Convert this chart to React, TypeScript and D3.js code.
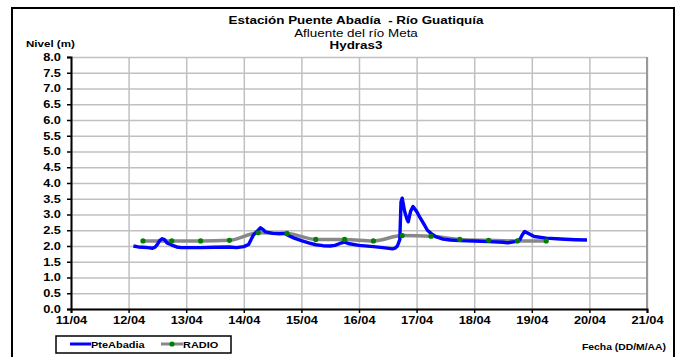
import { useEffect, useRef } from "react"
import * as d3 from "d3"

// Fechas de los ticks del eje X
const xTickLabels = ["11/04", "12/04", "13/04", "14/04", "15/04", "16/04", "17/04", "18/04", "19/04", "20/04", "21/04"]
const yTicks = [0, 0.5, 1, 1.5, 2, 2.5, 3, 3.5, 4, 4.5, 5, 5.5, 6, 6.5, 7, 7.5, 8]

// Serie PteAbadia (sensor)
const pteTimes = [
  "12/04 02:00", "12/04 04:00", "12/04 06:00", "12/04 08:00", "12/04 10:00", "12/04 11:00",
  "12/04 12:00", "12/04 13:00", "12/04 14:00", "12/04 15:00", "12/04 16:00", "12/04 18:00",
  "12/04 20:00", "12/04 22:00", "13/04 00:00", "13/04 06:00", "13/04 12:00", "13/04 18:00",
  "13/04 21:00", "14/04 00:00", "14/04 02:00", "14/04 03:00", "14/04 04:00", "14/04 06:00",
  "14/04 07:00", "14/04 08:00", "14/04 09:00", "14/04 12:00", "14/04 15:00", "14/04 17:00",
  "14/04 19:00", "14/04 21:00", "15/04 00:00", "15/04 03:00", "15/04 06:00", "15/04 09:00",
  "15/04 12:00", "15/04 14:00", "15/04 16:00", "15/04 18:00", "15/04 20:00", "16/04 00:00",
  "16/04 06:00", "16/04 10:00", "16/04 14:00", "16/04 15:00", "16/04 16:00", "16/04 17:00",
  "16/04 17:30", "16/04 18:00", "16/04 19:00", "16/04 20:00", "16/04 20:30", "16/04 21:30",
  "16/04 22:30", "17/04 00:00", "17/04 01:30", "17/04 03:00", "17/04 04:30", "17/04 06:00",
  "17/04 08:00", "17/04 11:00", "17/04 14:00", "17/04 18:00", "18/04 00:00", "18/04 06:00",
  "18/04 12:00", "18/04 14:00", "18/04 17:00", "18/04 19:00", "18/04 20:00", "18/04 21:00",
  "18/04 23:00", "19/04 01:00", "19/04 06:00", "19/04 12:00", "19/04 18:00", "19/04 23:00",
]
const pteValues = [
  2.0, 1.97, 1.96, 1.95, 1.93, 1.96,
  2.05, 2.18, 2.23, 2.2, 2.1, 2.03,
  1.97, 1.95, 1.95, 1.95, 1.96, 1.97,
  1.95, 1.98, 2.05, 2.2, 2.35, 2.5,
  2.58, 2.52, 2.45, 2.4, 2.39, 2.4,
  2.32, 2.25, 2.17, 2.1, 2.04, 2.01,
  2.0, 2.02, 2.08, 2.12, 2.07, 2.02,
  1.98, 1.95, 1.91, 1.93, 2.0, 2.2,
  3.4, 3.52, 3.1, 2.85, 2.77, 3.1,
  3.25, 3.1, 2.89, 2.7, 2.5, 2.4,
  2.3, 2.22, 2.19, 2.17, 2.16, 2.14,
  2.12, 2.1, 2.14, 2.2, 2.35, 2.46,
  2.38, 2.3, 2.25, 2.22, 2.2, 2.19,
]

// Serie RADIO (lecturas 6:00 y 18:00)
const radioTimes = [
  "12/04 06:00", "12/04 18:00", "13/04 06:00", "13/04 18:00", "14/04 06:00", "14/04 18:00",
  "15/04 06:00", "15/04 18:00", "16/04 06:00", "16/04 18:00", "17/04 06:00", "17/04 18:00",
  "18/04 06:00", "18/04 18:00", "19/04 06:00",
]
const radioValues = [2.16, 2.16, 2.16, 2.18, 2.42, 2.4, 2.21, 2.21, 2.16, 2.33, 2.31, 2.21, 2.18, 2.16, 2.16]

const parseTime = d3.timeParse("%d/%m %H:%M")
const parseDay = d3.timeParse("%d/%m")

const font = "'Liberation Sans', Arial, sans-serif"
const SX = 1.22 // the original text is stretched horizontally

export default function App() {
  const svgRef = useRef<SVGSVGElement>(null)

  useEffect(() => {
    if (!svgRef.current) return
    document.body.style.margin = "0"
    const svg = d3.select(svgRef.current)
    svg.selectAll("*").remove()

    const left = 71, right = 647, top = 57, bottom = 309

    // stretched text helper
    const label = (x: number, y: number, txt: string, size: number, weight = "bold", anchor = "start") =>
      svg.append("text")
        .attr("transform", `translate(${x},${y}) scale(${SX},1)`)
        .attr("text-anchor", anchor)
        .attr("font-family", font).attr("font-size", size).attr("font-weight", weight)
        .style("white-space", "pre")
        .text(txt)

    const x = d3
      .scaleTime()
      .domain([parseDay(xTickLabels[0]) as Date, parseDay(xTickLabels[xTickLabels.length - 1]) as Date])
      .range([left, right])
    const y = d3.scaleLinear().domain([0, 8]).range([bottom, top])

    // Outer frame
    svg.append("rect")
      .attr("x", 12).attr("y", 8).attr("width", 662).attr("height", 370)
      .attr("fill", "white").attr("stroke", "black").attr("stroke-width", 2)

    // Titles
    label(356, 24, "Estación Puente Abadía  - Río Guatiquía", 11, "bold", "middle")
    label(356, 37, "Afluente del río Meta", 11, "normal", "middle")
    label(356, 49, "Hydras3", 11, "bold", "middle")

    label(26, 47, "Nivel (m)", 9.5)

    // Grid
    const xTicks = xTickLabels.map(l => parseDay(l) as Date)
    svg.append("g").call(
      d3.axisBottom(x).tickValues(xTicks).tickSize(-(bottom - top)).tickFormat(() => "")
    )
      .attr("transform", `translate(0,${bottom})`)
      .call(g => g.select(".domain").remove())
      .selectAll("line").attr("stroke", "#c0c0c0").attr("stroke-width", 1.5)

    svg.append("g").call(
      d3.axisLeft(y).tickValues(yTicks).tickSize(-(right - left)).tickFormat(() => "")
    )
      .attr("transform", `translate(${left},0)`)
      .call(g => g.select(".domain").remove())
      .selectAll("line").attr("stroke", "#c0c0c0").attr("stroke-width", 1.5)

    // Plot border right (gray)
    svg.append("line")
      .attr("x1", right).attr("x2", right).attr("y1", top).attr("y2", bottom)
      .attr("stroke", "#999").attr("stroke-width", 2)

    // Axes
    const yAxis = svg.append("g")
      .attr("transform", `translate(${left},0)`)
      .call(d3.axisLeft(y).tickValues(yTicks).tickSize(4).tickFormat(d => d3.format(".1f")(d as number)))
    yAxis.select(".domain").attr("stroke", "black").attr("stroke-width", 2)
    yAxis.selectAll("line").attr("stroke", "black").attr("stroke-width", 1.5)
    yAxis.selectAll("text")
      .attr("font-family", font).attr("font-size", 10.5).attr("font-weight", "bold").attr("fill", "black")
      .attr("x", -8.2)
      .attr("transform", `scale(${SX},1)`)

    const xAxis = svg.append("g")
      .attr("transform", `translate(0,${bottom})`)
      .call(d3.axisBottom(x).tickValues(xTicks).tickSize(4).tickFormat((_, i) => xTickLabels[i]))
    xAxis.select(".domain").attr("stroke", "black").attr("stroke-width", 2)
    xAxis.selectAll("line").attr("stroke", "black").attr("stroke-width", 1.5)
    xAxis.selectAll("text")
      .attr("font-family", font).attr("font-size", 10.5).attr("font-weight", "bold").attr("fill", "black")
      .attr("y", 8)
      .attr("transform", `scale(${SX},1)`)

    const radio = radioTimes.map((t, i) => ({ date: parseTime(t) as Date, value: radioValues[i] }))
    const pte = pteTimes.map((t, i) => ({ date: parseTime(t) as Date, value: pteValues[i] }))

    const line = d3.line<{ date: Date; value: number }>()
      .x(d => x(d.date))
      .y(d => y(d.value))

    // RADIO line (smoothed, gray)
    svg.append("path")
      .datum(radio)
      .attr("fill", "none")
      .attr("stroke", "#888888")
      .attr("stroke-width", 3.5)
      .attr("d", line.curve(d3.curveMonotoneX))

    // PteAbadia line
    svg.append("path")
      .datum(pte)
      .attr("fill", "none")
      .attr("stroke", "#0000ff")
      .attr("stroke-width", 3.4)
      .attr("stroke-linejoin", "round")
      .attr("d", line.curve(d3.curveLinear))

    svg.selectAll(".dot")
      .data(radio)
      .enter()
      .append("circle")
      .attr("cx", d => x(d.date))
      .attr("cy", d => y(d.value))
      .attr("r", 2.6)
      .attr("fill", "#008000")

    // Legend
    svg.append("rect")
      .attr("x", 56).attr("y", 336).attr("width", 175).attr("height", 17)
      .attr("fill", "white").attr("stroke", "black").attr("stroke-width", 1.5)
    svg.append("line")
      .attr("x1", 70).attr("x2", 91).attr("y1", 344).attr("y2", 344)
      .attr("stroke", "#0000ff").attr("stroke-width", 3)
    label(91, 348, "PteAbadia", 9)
    svg.append("line")
      .attr("x1", 161).attr("x2", 183).attr("y1", 344).attr("y2", 344)
      .attr("stroke", "#888888").attr("stroke-width", 3)
    svg.append("circle")
      .attr("cx", 172).attr("cy", 344).attr("r", 2.6).attr("fill", "#008000")
    label(183, 348, "RADIO", 9)

    label(666, 350, "Fecha (DD/M/AA)", 8.5, "bold", "end")
  }, [])

  return (
    <svg
      ref={svgRef}
      width={679}
      height={357}
      style={{ position: "absolute", left: 0, top: 0, background: "white" }}
    />
  )
}
